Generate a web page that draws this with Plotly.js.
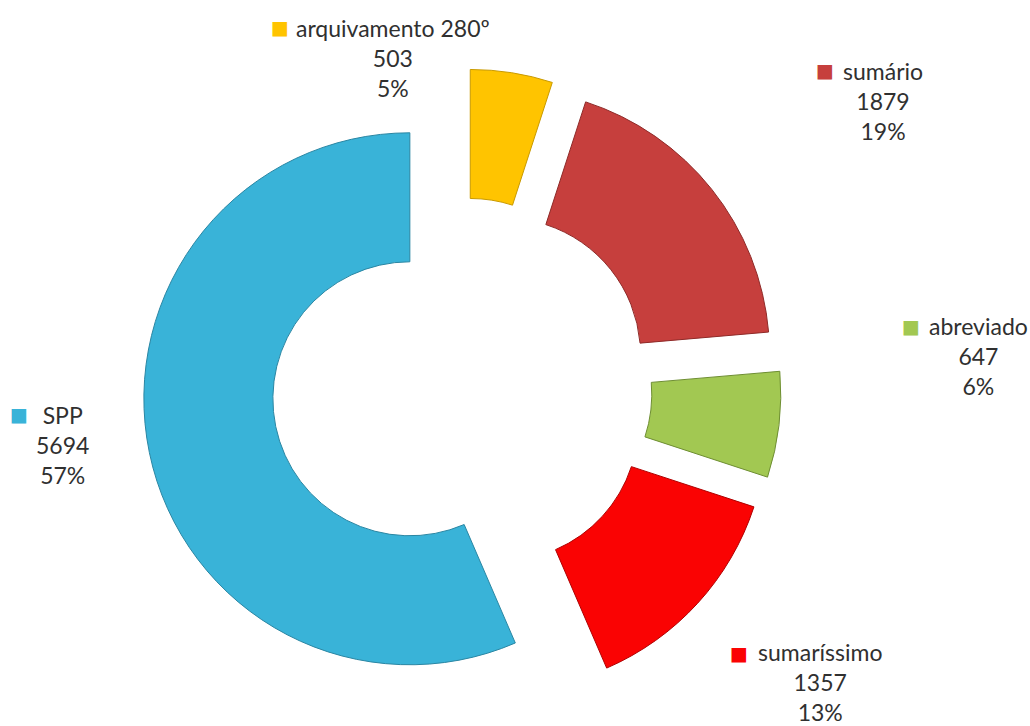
<!DOCTYPE html>
<html>
<head>
<meta charset="utf-8">
<script src="https://cdn.plot.ly/plotly-3.0.1.min.js"></script>
<style>html,body{margin:0;padding:0;background:#fff;}#chart{width:1030px;height:726px;}</style>
</head>
<body>
<div id="chart"></div>
<script>
// Data
var categories = ['arquivamento 280º', 'sumário', 'abreviado', 'sumaríssimo', 'SPP'];
var values = [503, 1879, 647, 1357, 5694];
var pctLabels = ['5%', '19%', '6%', '13%', '57%'];

// Styles
var colors = ['#FFC400', '#C63F3D', '#A2C852', '#FA0303', '#39B3D8'];
var edgeColors = ['#C99A00', '#8E2A28', '#6E8E32', '#B00000', '#2A86A3'];
// pixel centres of text blocks (x centre, middle line y) and of legend-key squares
var textPos = [[393, 58], [883, 101], [978, 356], [820, 682], [62, 445]];
var keyPos = [[280, 27], [825, 70], [911, 326], [739, 653], [19, 414]];

var W = 1030, H = 726;
var annotations = [];
categories.forEach(function (c, i) {
  annotations.push({
    xref: 'paper', yref: 'paper',
    x: textPos[i][0] / W, y: 1 - textPos[i][1] / H,
    xanchor: 'center', yanchor: 'middle',
    showarrow: false, align: 'center',
    text: c + '<br>' + values[i] + '<br>' + pctLabels[i],
    font: {family: 'Lato, "Open Sans", sans-serif', size: 23, color: '#303030'}
  });
  annotations.push({
    xref: 'paper', yref: 'paper',
    x: keyPos[i][0] / W, y: 1 - keyPos[i][1] / H,
    xanchor: 'center', yanchor: 'middle',
    showarrow: false,
    text: '■',
    font: {family: '"DejaVu Sans", sans-serif', size: 19, color: colors[i]}
  });
});

var trace = {
  type: 'pie',
  labels: categories,
  values: values,
  sort: false,
  direction: 'clockwise',
  rotation: 0,
  hole: 0.515,
  pull: [0.2, 0.2, 0.2, 0.2, 0.2],
  textinfo: 'none',
  hoverinfo: 'label+value+percent',
  marker: {colors: colors, line: {color: edgeColors, width: 1}},
  domain: {x: [0.1386, 0.7584], y: [0.0259, 0.9052]}
};

var layout = {
  width: W, height: H,
  margin: {l: 0, r: 0, t: 0, b: 0},
  showlegend: false,
  paper_bgcolor: '#ffffff',
  annotations: annotations
};

Plotly.newPlot('chart', [trace], layout, {displayModeBar: false, staticPlot: true});
</script>
</body>
</html>
